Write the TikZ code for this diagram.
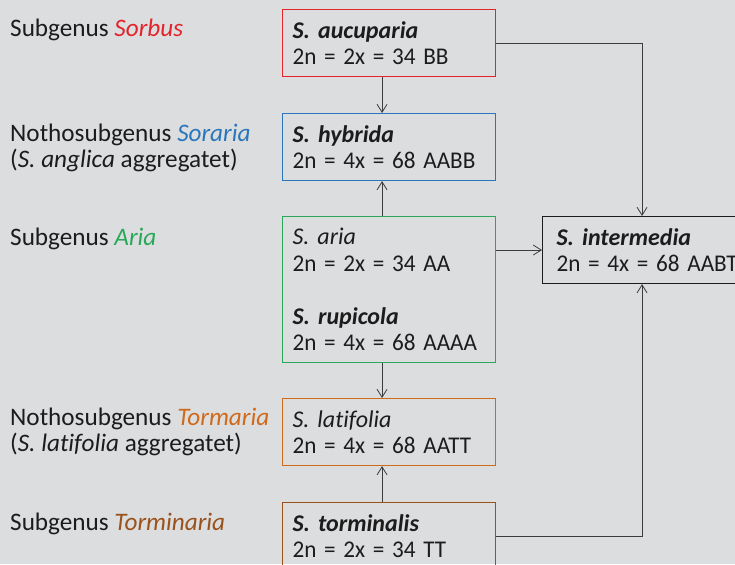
\documentclass[tikz,border=0pt]{standalone}
\usepackage{fontspec}
\setmainfont{Carlito}[Ligatures=CommonOff]
\usetikzlibrary{arrows.meta}
\definecolor{bgcol}{HTML}{DCDDDF}
\definecolor{sorbus}{HTML}{E3242B}
\definecolor{soraria}{HTML}{2A76BC}
\definecolor{aria}{HTML}{2AA85A}
\definecolor{tormaria}{HTML}{D06A1A}
\definecolor{torminaria}{HTML}{99521C}
\definecolor{ink}{HTML}{1C1C1C}
\definecolor{wire}{HTML}{3C3C3C}
\newcommand\chrom[1]{\scalebox{0.965}[1]{#1}}
\tikzset{
  box/.style={draw, line width=1.1pt, anchor=north west, minimum width=213pt,
    minimum height=67pt, text width=193pt, inner xsep=10pt, align=left,
    text=ink, font=\fontsize{24}{26.5}\selectfont},
  group/.style={anchor=base west, inner sep=0pt, text=ink, align=left,
    font=\fontsize{25.2}{26}\selectfont},
  link/.style={draw=wire, line width=0.8pt, -{Straight Barb[length=8pt,width=10pt]}}
}

\begin{document}
\begin{tikzpicture}[x=1pt, y=-1pt]
  \clip (0,0) rectangle (735,564);
  \fill[bgcol] (0,0) rectangle (735,564);

  \node[group] (lsorbus) at (10,37) {Subgenus \textcolor{sorbus}{\textit{Sorbus}}};
  \node[group] (lsoraria) at (10,141.5) {Nothosubgenus \textcolor{soraria}{\textit{Soraria}}};
  \node[group] (lsoraria2) at (10,167.5) {(\textit{S. anglica} aggregatet)};
  \node[group] (laria) at (10,245) {Subgenus \textcolor{aria}{\textit{Aria}}};
  \node[group] (ltormaria) at (10,425.5) {Nothosubgenus \textcolor{tormaria}{\textit{Tormaria}}};
  \node[group] (ltormaria2) at (10,451.5) {(\textit{S. latifolia} aggregatet)};
  \node[group] (ltorminaria) at (10,530) {Subgenus \textcolor{torminaria}{\textit{Torminaria}}};

  \node[box, draw=sorbus] (auc) at (282,9)
    {\textbf{\textit{S. aucuparia}}\\\chrom{2n = 2x = 34 BB}};
  \node[box, draw=soraria] (hyb) at (282,113)
    {\textbf{\textit{S. hybrida}}\\\chrom{2n = 4x = 68 AABB}};
  \node[box, draw=aria, minimum height=146pt] (aria) at (282,216)
    {\textit{S. aria}\\\chrom{2n = 2x = 34 AA}\\[26.5pt]\textbf{\textit{S. rupicola}}\\\chrom{2n = 4x = 68 AAAA}};
  \node[box, draw=tormaria] (lat) at (282,398)
    {\textit{S. latifolia}\\\chrom{2n = 4x = 68 AATT}};
  \node[box, draw=torminaria] (tor) at (282,502)
    {\textbf{\textit{S. torminalis}}\\\chrom{2n = 2x = 34 TT}};
  \node[box, draw=ink, inner xsep=14pt, text width=199pt] (int) at (542,216)
    {\textbf{\textit{S. intermedia}}\\\chrom{2n = 4x = 68 AABT}};

  \draw[link] ([xshift=-7pt]auc.south) -- ([xshift=-7pt]hyb.north);
  \draw[link] ([xshift=-7pt]aria.north) -- ([xshift=-7pt]hyb.south);
  \draw[link] ([xshift=-7pt]aria.south) -- ([xshift=-7pt]lat.north);
  \draw[link] ([xshift=-7pt]tor.north) -- ([xshift=-7pt]lat.south);
  \draw[link] (aria.east |- int.west) -- (int.west);
  \draw[link] (auc.east) -| ([xshift=-14pt]int.north);
  \draw[link] (tor.east) -| ([xshift=-14pt]int.south);
\end{tikzpicture}
\end{document}
